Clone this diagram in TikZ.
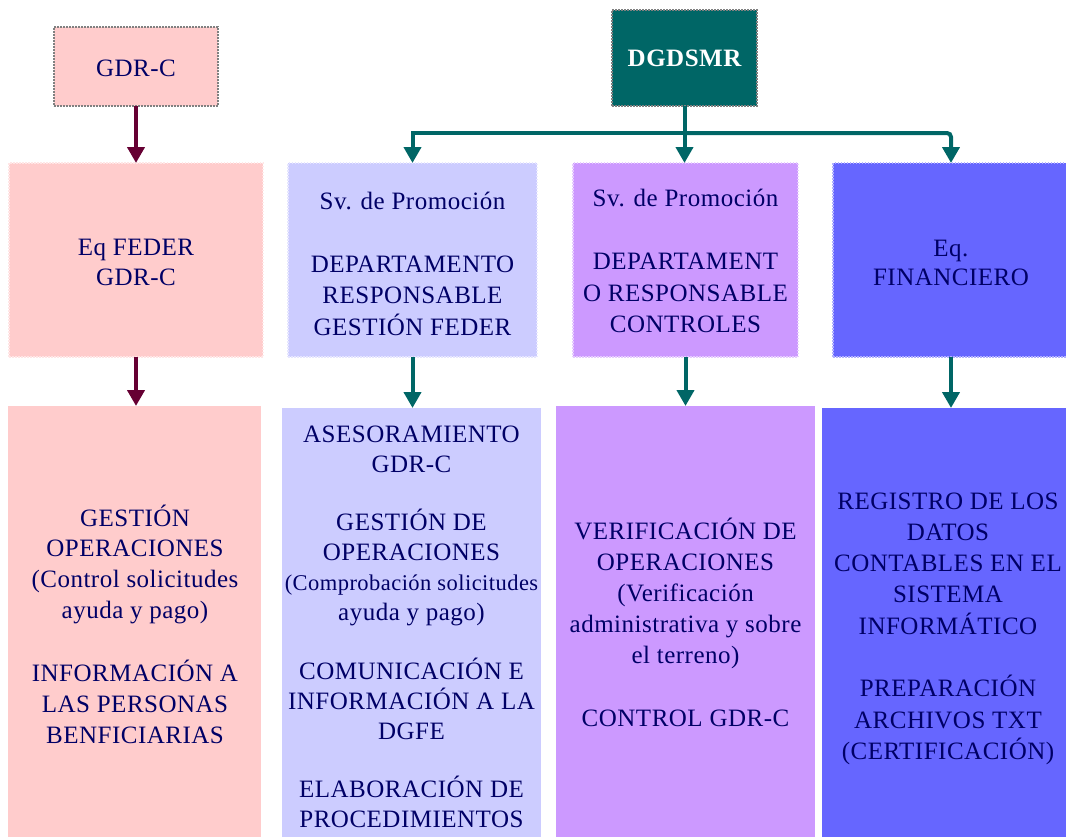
\documentclass[tikz,border=0pt]{standalone}
\usepackage{fontspec}
\setmainfont{Liberation Serif}[LetterSpace=2]
\usetikzlibrary{arrows.meta}
\definecolor{pinkf}{HTML}{FFCCCC}
\definecolor{lavf}{HTML}{CCCCFF}
\definecolor{purf}{HTML}{CC99FF}
\definecolor{bluef}{HTML}{6666FF}
\definecolor{tealc}{HTML}{006666}
\definecolor{maroonc}{HTML}{660033}
\definecolor{navyt}{HTML}{000066}
\newcommand{\fstrut}{\rule{0pt}{26pt}}
\begin{document}
\begin{tikzpicture}[x=1pt,y=-1pt,
  rect/.style={inner sep=0pt, outer sep=0pt},
  fuzzy/.style={draw=#1!50!white, line width=1.2pt, dash pattern=on 1.5pt off 1.5pt},
  topbox/.style={rect, draw=gray, line width=1.2pt, dash pattern=on 2pt off 1pt},
  txt/.style={align=center, text=navyt, inner sep=0pt, outer sep=0pt, anchor=north},
  marr/.style={draw=maroonc, line width=4pt, -{Triangle[width=17pt,length=16pt]}},
  tarr/.style={draw=tealc, line width=4pt, -{Triangle[width=17pt,length=16pt]}},
]
\useasboundingbox (0,0) rectangle (1066,836);

% top boxes
\node[topbox, fill=pinkf, minimum width=164pt, minimum height=79pt] (gdr) at (136,66.5) {};
\node[topbox, fill=tealc, minimum width=145pt, minimum height=96pt] (dg) at (684.5,58) {};
\node[txt, font=\fontsize{25}{30}\selectfont] (tgdr) at (136,50) {\fstrut GDR-C};
\node[txt, text=white, font=\fontsize{25}{30}\selectfont\bfseries] (tdg) at (684.5,40) {\fstrut DGDSMR};

% second row
\node[rect, fill=pinkf, fuzzy=pinkf, minimum width=254pt, minimum height=194pt] (b1) at (136,260) {};
\node[rect, fill=lavf, fuzzy=lavf, minimum width=249pt, minimum height=194pt] (b2) at (412.5,260) {};
\node[rect, fill=purf, fuzzy=purf, minimum width=225pt, minimum height=194pt] (b3) at (685.5,260) {};
\node[rect, fill=bluef, fuzzy=bluef, minimum width=236pt, minimum height=194pt] (b4) at (951,260) {};

\node[txt, font=\fontsize{25}{30}\selectfont] (tb1) at (136,229) {\fstrut Eq FEDER\\GDR-C};
\node[txt, font=\fontsize{25}{31.5}\selectfont] (tb2) at (412.5,183) {\fstrut Sv. de Promoción\\[31.5pt]DEPARTAMENTO\\RESPONSABLE\\GESTIÓN FEDER};
\node[txt, font=\fontsize{25}{31.5}\selectfont] (tb3) at (685.5,180) {\fstrut Sv. de Promoción\\[32pt]DEPARTAMENT\\O RESPONSABLE\\CONTROLES};
\node[txt, font=\fontsize{25}{29.5}\selectfont] (tb4) at (951,230) {\fstrut Eq.\\FINANCIERO};

% third row
\node[rect, fill=pinkf, minimum width=253pt, minimum height=434pt] (c1) at (134.5,623) {};
\node[rect, fill=lavf, minimum width=259pt, minimum height=432pt] (c2) at (411.5,624) {};
\node[rect, fill=purf, minimum width=259pt, minimum height=434pt] (c3) at (685.5,623) {};
\node[rect, fill=bluef, minimum width=248pt, minimum height=432pt] (c4) at (946,624) {};

\node[txt, font=\fontsize{25}{30.8}\selectfont] (tc1) at (135,500) {\fstrut GESTIÓN\\OPERACIONES\\(Control solicitudes\\ayuda y pago)\\[32.5pt]INFORMACIÓN A\\LAS PERSONAS\\BENFICIARIAS};
\node[txt, font=\fontsize{25}{30}\selectfont] (tc2) at (411.5,416) {\fstrut ASESORAMIENTO\\GDR-C\\[28.5pt]GESTIÓN DE\\OPERACIONES\\{\fontsize{22.5}{30}\selectfont(Comprobación solicitudes}\\ayuda y pago)\\[28.5pt]COMUNICACIÓN E\\INFORMACIÓN A LA\\DGFE\\[28.5pt]ELABORACIÓN DE\\PROCEDIMIENTOS};
\node[txt, font=\fontsize{25}{31}\selectfont] (tc3) at (685.5,513) {\fstrut VERIFICACIÓN DE\\OPERACIONES\\(Verificación\\administrativa y sobre\\el terreno)\\[32pt]CONTROL GDR-C};
\node[txt, font=\fontsize{25}{31.3}\selectfont] (tc4) at (948,483) {\fstrut REGISTRO DE LOS\\DATOS\\CONTABLES EN EL\\SISTEMA\\INFORMÁTICO\\[31.3pt]PREPARACIÓN\\ARCHIVOS TXT\\(CERTIFICACIÓN)};

% connectors
\draw[marr] (gdr.south) -- (b1.north);
\draw[marr] (b1.south) -- (b1.south |- c1.north);
\coordinate (bus) at (684.5,133);
\draw[tarr] (dg.south) -- (dg.south |- b3.north);
\draw[tarr] (bus) -| (b2.north);
\draw[tarr, rounded corners=4pt] (bus) -| (b4.north);
\draw[tarr] (b2.south) -- (b2.south |- c2.north);
\draw[tarr] (b3.south) -- (b3.south |- c3.north);
\draw[tarr] (b4.south) -- (b4.south |- c4.north);
\end{tikzpicture}
\end{document}
